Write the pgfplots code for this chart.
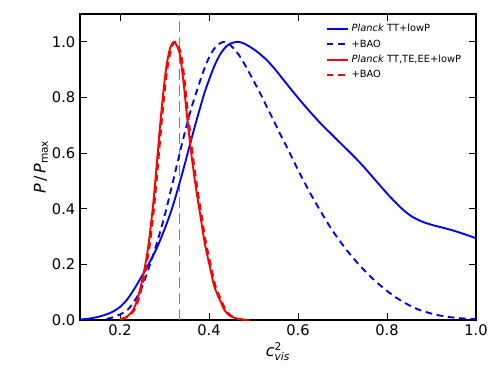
\documentclass[border=0pt]{standalone}
\usepackage{fontspec}
\setmainfont{DejaVu Sans}
\usepackage{amsmath}
\usepackage{pgfplots}
\pgfplotsset{compat=1.18}

\begin{document}
\begin{tikzpicture}
\begin{axis}[
  scale only axis, width=297pt, height=229.5pt,
  xmin=0.11, xmax=1.0, ymin=0, ymax=1.1,
  xtick={0.2,0.4,0.6,0.8,1.0}, ytick={0,0.2,0.4,0.6,0.8,1.0},
  xtick pos=both, ytick pos=both,
  /pgf/number format/assume math mode=true,
  /pgf/number format/.cd, fixed, fixed zerofill, precision=1, /pgfplots/.cd,
  tick label style={font=\fontsize{11}{13}\selectfont},
  tick align=inside, major tick length=5pt,
  every tick/.style={black, line width=0.6pt},
  axis line style={line width=1pt},
  xlabel={$\textit{c}^{\text{2}}_{\textit{vis}}$},
  ylabel={\textit{P}\,/\,\textit{P}\textsubscript{max}},
  label style={font=\fontsize{12}{14}\selectfont},
  xlabel style={yshift=2pt},
  ylabel style={yshift=-4pt},
  legend style={draw=none, fill=none, at={(0.98,0.985)}, anchor=north east,
    font=\fontsize{7.4}{9}\selectfont, row sep=0.5pt},
  legend cell align=left,
  legend image code/.code={\draw[#1] (0pt,0pt) -- (16pt,0pt);},
  clip=true,
]
\addplot[gray, dash pattern=on 8pt off 4pt, line width=0.6pt, forget plot]
  coordinates {(0.3333,0)(0.3333,1.1)};

% TT+lowP
\addplot[blue, line width=1.4pt, smooth] coordinates {
(0.11,0.002)(0.13,0.005)(0.155,0.013)(0.18,0.027)(0.2,0.047)(0.215,0.072)(0.229,0.104)
(0.24,0.133)(0.252,0.166)(0.267,0.209)(0.283,0.26)(0.298,0.318)(0.312,0.378)(0.323,0.433)
(0.34,0.528)(0.357,0.63)(0.37,0.707)(0.38,0.763)(0.39,0.818)(0.402,0.872)(0.413,0.917)
(0.425,0.955)(0.436,0.979)(0.447,0.993)(0.463,1.0)(0.477,0.995)(0.492,0.982)(0.51,0.962)
(0.53,0.934)(0.548,0.902)(0.566,0.866)(0.585,0.828)(0.604,0.791)(0.625,0.752)(0.65,0.708)
(0.675,0.668)(0.701,0.627)(0.72,0.597)(0.739,0.566)(0.758,0.532)(0.777,0.497)(0.8,0.455)
(0.822,0.418)(0.84,0.391)(0.858,0.37)(0.88,0.353)(0.903,0.341)(0.925,0.332)(0.948,0.322)
(0.975,0.308)(1.0,0.294)};
\addlegendentry{\textit{Planck} TT+lowP}

% +BAO
\addplot[blue, line width=1.4pt, dash pattern=on 5pt off 3.5pt, smooth] coordinates {
(0.17,0.004)(0.185,0.01)(0.2,0.02)(0.216,0.035)(0.228,0.058)(0.238,0.083)(0.25,0.122)
(0.26,0.165)(0.272,0.222)(0.283,0.278)(0.296,0.35)(0.308,0.425)(0.326,0.545)(0.341,0.645)
(0.36,0.76)(0.38,0.86)(0.391,0.91)(0.402,0.95)(0.413,0.978)(0.425,0.995)(0.435,1.0)
(0.443,0.995)(0.456,0.975)(0.47,0.946)(0.485,0.905)(0.499,0.863)(0.515,0.815)(0.53,0.766)
(0.545,0.718)(0.56,0.668)(0.577,0.615)(0.59,0.572)(0.604,0.527)(0.627,0.457)(0.65,0.393)
(0.668,0.345)(0.688,0.297)(0.71,0.25)(0.732,0.208)(0.75,0.177)(0.775,0.138)(0.807,0.096)
(0.835,0.066)(0.867,0.04)(0.9,0.023)(0.926,0.014)(0.96,0.007)(1.0,0.003)};
\addlegendentry{+BAO}

% TT,TE,EE+lowP
\addplot[red, line width=1.4pt, smooth] coordinates {
(0.2,0.003)(0.215,0.012)(0.229,0.035)(0.24,0.08)(0.252,0.16)(0.263,0.26)(0.274,0.41)
(0.282,0.55)(0.29,0.70)(0.298,0.83)(0.305,0.92)(0.313,0.98)(0.321,1.0)(0.328,0.985)
(0.335,0.95)(0.343,0.85)(0.35,0.74)(0.357,0.64)(0.364,0.55)(0.372,0.46)(0.38,0.38)
(0.39,0.28)(0.402,0.19)(0.412,0.12)(0.425,0.07)(0.435,0.035)(0.447,0.015)(0.465,0.004)
(0.485,0)};
\addlegendentry{\textit{Planck} TT,TE,EE+lowP}

% +BAO
\addplot[red, line width=1.4pt, dash pattern=on 5pt off 3.5pt, smooth] coordinates {
(0.203,0.003)(0.218,0.012)(0.232,0.035)(0.243,0.08)(0.255,0.16)(0.266,0.26)(0.277,0.41)
(0.285,0.55)(0.293,0.70)(0.301,0.83)(0.308,0.92)(0.316,0.98)(0.324,1.0)(0.331,0.985)
(0.338,0.95)(0.346,0.85)(0.353,0.74)(0.36,0.64)(0.367,0.55)(0.375,0.46)(0.383,0.38)
(0.393,0.28)(0.405,0.19)(0.415,0.12)(0.428,0.07)(0.438,0.035)(0.45,0.015)(0.468,0.004)
(0.49,0)};
\addlegendentry{+BAO}
\end{axis}
\path (current axis.south west) ++(-60pt,-50pt);
\path (current axis.north east) ++(19.5pt,10.5pt);
\end{tikzpicture}
\end{document}
